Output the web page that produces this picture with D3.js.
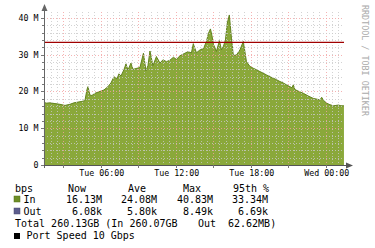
<!DOCTYPE html>
<html>
<head>
<meta charset="utf-8">
<script src="https://cdn.jsdelivr.net/npm/d3@7/dist/d3.min.js"></script>
<style>
  body { margin: 0; background: #fff; }
  text { font-family: "DejaVu Sans Mono", monospace; }
</style>
</head>
<body>
<div id="chart"></div>
<script>
// hours since Tue 00:00, and inbound traffic in Mbps
var hours = [1.46, 1.62, 1.94, 2.34, 2.74, 3.14, 3.54, 3.86, 4.18, 4.50, 4.74, 4.90, 4.98, 5.14, 5.30, 5.54, 5.86,
  6.26, 6.58, 6.82, 7.06, 7.30, 7.46, 7.62, 7.86, 8.02, 8.18, 8.42, 8.58, 8.90, 9.14, 9.42, 9.62, 9.78, 9.94,
  10.18, 10.46, 10.74, 10.98, 11.26, 11.54, 11.82, 12.06, 12.34, 12.74, 12.98, 13.26, 13.41, 13.66, 13.94,
  14.22, 14.46, 14.62, 14.78, 14.90, 15.02, 15.26, 15.50, 15.66, 15.82, 15.98, 16.13, 16.29, 16.46, 16.61,
  16.86, 17.14, 17.41, 17.66, 17.94, 18.21, 18.46, 18.74, 18.98, 19.26, 19.54, 19.81, 20.06, 20.34, 20.61,
  20.86, 21.14, 21.30, 21.41, 21.54, 21.86, 22.21, 22.58, 23.01, 23.30, 23.54, 23.68, 23.82, 24.08, 24.34,
  24.61, 24.82, 25.02, 25.22, 25.46];
var inMbps = [17.2, 16.8, 16.9, 16.7, 16.5, 16.2, 16.5, 16.9, 17.1, 17.3, 17.5, 20.5, 21.3, 19.0, 18.9, 19.5, 19.9,
  20.4, 21.3, 22.3, 24.0, 23.4, 24.8, 24.2, 25.9, 27.5, 25.8, 27.7, 26.0, 26.3, 26.5, 30.4, 25.6, 27.0, 31.0,
  27.0, 29.5, 27.7, 28.6, 28.1, 28.5, 29.3, 28.7, 29.7, 30.4, 30.8, 30.5, 33.0, 30.5, 31.3,
  31.6, 33.6, 35.8, 37.0, 35.2, 32.8, 30.9, 33.8, 31.3, 32.3, 34.0, 38.6, 40.8, 34.5, 29.8,
  29.9, 31.3, 33.6, 28.1, 26.8, 26.3, 25.9, 25.4, 25.0, 24.5, 24.0, 23.6, 23.2, 22.7, 22.3,
  21.8, 21.3, 21.0, 21.8, 20.5, 20.0, 19.5, 18.8, 18.1, 17.9, 17.7, 18.4, 17.6, 16.8, 16.4,
  16.1, 16.2, 16.3, 16.1, 16.1];
var p95 = 33.34;
var yTicks = [0, 10, 20, 30, 40];

var legendHead = ["Now", "Ave", "Max", "95th %"];
var inStats = ["16.13M", "24.08M", "40.83M", "33.34M"];
var outStats = ["6.08k", "5.80k", "8.49k", "6.69k"];
var totalText = "Total 260.13GB (In 260.07GB";
var totalOut = ["Out", "62.62MB)"];
var portText = "Port Speed 10 Gbps";

var W = 375, H = 248;
var svg = d3.select("#chart").append("svg")
  .attr("width", W).attr("height", H);

var tue = new Date(2024, 0, 2); // a Tuesday
function hourDate(h) { return new Date(tue.getTime() + h * 3600000); }

var x = d3.scaleTime()
  .domain([hourDate(1.464), hourDate(25.464)])
  .range([44, 344]);
var y = d3.scaleLinear()
  .domain([0, 40])
  .range([165, 17.9]);

var data = hours.map(function(h, i) { return {t: hourDate(h), v: inMbps[i]}; });

// area
svg.append("path")
  .datum(data)
  .attr("fill", "#8aa83a")
  .attr("d", d3.area().x(function(d) { return x(d.t); }).y0(y(0)).y1(function(d) { return y(d.v); }));
svg.append("path")
  .datum(data)
  .attr("fill", "none")
  .attr("stroke", "#62821e")
  .attr("stroke-width", 1)
  .attr("d", d3.line().x(function(d) { return x(d.t); }).y(function(d) { return y(d.v); }));

// grid
var grid = svg.append("g").attr("shape-rendering", "crispEdges").attr("stroke-width", 1);
var minorX = d3.timeMinute.every(30).range(x.domain()[0], x.domain()[1]);
grid.selectAll(".vx").data(minorX).enter().append("line")
  .attr("x1", function(d) { return Math.round(x(d)) + 0.5; })
  .attr("x2", function(d) { return Math.round(x(d)) + 0.5; })
  .attr("y1", y(40) - 6).attr("y2", y(0))
  .attr("stroke", function(d) { return d.getMinutes() === 0 && d.getHours() % 3 === 0 ? "#f2a0a0" : "#c8c8c8"; })
  .attr("stroke-opacity", 0.8)
  .attr("stroke-dasharray", "1,2");
var minorY = d3.range(2, 42, 2);
grid.selectAll(".hy").data(minorY).enter().append("line")
  .attr("x1", 44).attr("x2", 344)
  .attr("y1", function(d) { return Math.round(y(d)) + 0.5; })
  .attr("y2", function(d) { return Math.round(y(d)) + 0.5; })
  .attr("stroke", function(d) { return d % 10 === 0 ? "#f2a0a0" : "#c8c8c8"; })
  .attr("stroke-opacity", 0.8)
  .attr("stroke-dasharray", "1,2");

// 95th percentile line
svg.append("line")
  .attr("x1", 44).attr("x2", 344)
  .attr("y1", y(p95)).attr("y2", y(p95))
  .attr("stroke", "#a00000").attr("stroke-width", 1.3);

// axes lines and arrows
var ax = svg.append("g").attr("shape-rendering", "crispEdges");
ax.append("line").attr("x1", 44.5).attr("x2", 44.5).attr("y1", 168).attr("y2", 9)
  .attr("stroke", "#666");
ax.append("line").attr("x1", 41).attr("x2", 348).attr("y1", 165.5).attr("y2", 165.5)
  .attr("stroke", "#555");
svg.append("path").attr("d", "M41.5,11 L44.5,4 L47.5,11 Z").attr("fill", "#666");
svg.append("path").attr("d", "M346,162.5 L353,165.5 L346,168.5 Z").attr("fill", "#555");

// y ticks and labels
ax.selectAll(".yt").data(minorY.concat([0])).enter().append("line")
  .attr("x1", function(d) { return d % 10 === 0 ? 41 : 42; }).attr("x2", 44)
  .attr("y1", function(d) { return Math.round(y(d)) + 0.5; })
  .attr("y2", function(d) { return Math.round(y(d)) + 0.5; })
  .attr("stroke", "#777");
svg.selectAll(".yl").data(yTicks).enter().append("text")
  .attr("x", 38.5).attr("y", function(d) { return y(d) + 3; })
  .attr("text-anchor", "end").attr("font-size", 8.3).attr("fill", "#000")
  .text(function(d) { return d === 0 ? "0" : d + " M"; });

// x ticks and labels
var majorX = d3.timeHour.every(3).range(x.domain()[0], x.domain()[1]);
ax.selectAll(".xt").data(majorX).enter().append("line")
  .attr("x1", function(d) { return Math.round(x(d)) + 0.5; })
  .attr("x2", function(d) { return Math.round(x(d)) + 0.5; })
  .attr("y1", 165).attr("y2", 168).attr("stroke", "#777");
var labelX = d3.timeHour.every(6).range(x.domain()[0], x.domain()[1]);
svg.selectAll(".xl").data(labelX).enter().append("text")
  .attr("x", function(d) { return x(d) + 1; }).attr("y", 176)
  .attr("text-anchor", "middle").attr("font-size", 8.3).attr("fill", "#000")
  .text(d3.timeFormat("%a %H:%M"));

// watermark
svg.append("text")
  .attr("transform", "translate(362,5) rotate(90)")
  .attr("font-size", 8.4).attr("fill", "#aaa")
  .text("RRDTOOL / TOBI OETIKER");

// legend
var lg = svg.append("g").attr("font-size", 10).attr("fill", "#000");
var headX = [68, 128, 183, 233];
var valX = [102, 157, 213, 268];
lg.append("text").attr("x", 15).attr("y", 191.5).text("bps");
lg.selectAll(".lh").data(legendHead).enter().append("text")
  .attr("x", function(d, i) { return headX[i]; }).attr("y", 191.5).text(function(d) { return d; });

lg.append("rect").attr("x", 14).attr("y", 196).attr("width", 6).attr("height", 6)
  .attr("fill", "#6e8e26").attr("stroke", "#55701a").attr("stroke-width", 0.5);
lg.append("text").attr("x", 23.5).attr("y", 203).text("In");
lg.selectAll(".vi").data(inStats).enter().append("text")
  .attr("x", function(d, i) { return valX[i]; }).attr("y", 203)
  .attr("text-anchor", "end").text(function(d) { return d; });

lg.append("rect").attr("x", 14).attr("y", 208).attr("width", 6).attr("height", 6)
  .attr("fill", "#5e5e8e").attr("stroke", "#48486e").attr("stroke-width", 0.5);
lg.append("text").attr("x", 23.5).attr("y", 214.5).text("Out");
lg.selectAll(".vo").data(outStats).enter().append("text")
  .attr("x", function(d, i) { return valX[i]; }).attr("y", 214.5)
  .attr("text-anchor", "end").text(function(d) { return d; });

lg.append("text").attr("x", 15).attr("y", 227).text(totalText);
lg.append("text").attr("x", 198).attr("y", 227).text(totalOut[0]);
lg.append("text").attr("x", 228).attr("y", 227).text(totalOut[1]);

lg.append("rect").attr("x", 14).attr("y", 233).attr("width", 6).attr("height", 6).attr("fill", "#000");
lg.append("text").attr("x", 26.5).attr("y", 239).text(portText);
</script>
</body>
</html>
